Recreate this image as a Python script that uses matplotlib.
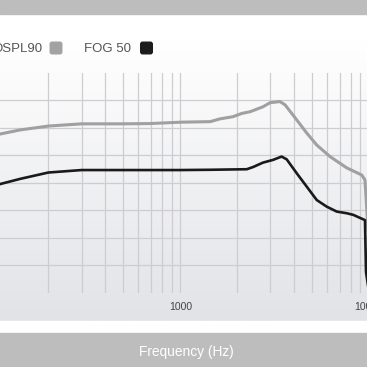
import numpy as np
import matplotlib
matplotlib.use('Agg')
import matplotlib.pyplot as plt
from matplotlib.patches import Rectangle, FancyBboxPatch

plt.rcParams['font.family'] = ['Liberation Sans', 'DejaVu Sans']

# frequency response values (Hz, dB)
ospl_freq = [100, 111, 142, 200, 300, 480, 690, 1000, 1440, 1620, 1900, 2120, 2340,
             2740, 2990, 3370, 3590, 4140, 4670, 5280, 6210, 7610, 9140, 9510, 9870]
ospl_db = [107.0, 107.7, 109.2, 110.6, 111.4, 111.4, 111.5, 112.0, 112.2, 113.2, 114.0, 115.2, 115.8,
           117.6, 119.1, 119.5, 118.3, 112.8, 108.1, 103.7, 99.5, 95.4, 92.8, 91.0, 72.8]

fog_freq = [100, 111, 142, 200, 300, 480, 1000, 1440, 2250, 2430, 2740, 3100, 3440,
            3660, 4140, 4670, 5280, 5960, 6740, 7610, 8250, 8950, 9510, 9630, 10000]
fog_db = [88.4, 89.5, 91.4, 93.7, 94.6, 94.6, 94.6, 94.7, 94.9, 95.7, 97.3, 98.3, 99.5,
          98.5, 93.4, 88.6, 83.7, 81.3, 79.5, 78.9, 78.3, 77.2, 76.4, 57.5, 50.0]

major_ticks = [100, 1000, 10000]
tick_labels = ['100', '1000', '10000']
minor_ticks = [200, 300, 400, 500, 600, 700, 800, 900,
               2000, 3000, 4000, 5000, 6000, 7000, 8000, 9000]
level_ticks = [60, 70, 80, 90, 100, 110, 120]

W = 367
fig = plt.figure(figsize=(3.67, 3.67), dpi=100)

# background: bands + gradient panel, drawn in pixel coords
bg = fig.add_axes([0, 0, 1, 1], zorder=0)
bg.set_xlim(0, W)
bg.set_ylim(W, 0)
bg.axis('off')
top = np.array([1.0, 1.0, 1.0])
bottom = np.array([0xe2, 0xe3, 0xe7]) / 255
t = np.linspace(0, 1, 200)[:, None]
grad = (top + (bottom - top) * t)[:, None, :]
bg.imshow(grad, extent=[0, W, 321, 40], aspect='auto', interpolation='bilinear')
bg.add_patch(Rectangle((0, 40), W, -26, color='white'))
bg.add_patch(Rectangle((0, 0), W, 14, color='#bdbdbd'))
bg.add_patch(Rectangle((0, 321), W, 12, color='white'))
bg.add_patch(Rectangle((0, 333), W, 34, color='#bdbdbd'))
bg.text(186, 352, 'Frequency (Hz)', color='white', fontsize=9.9, ha='center', va='center')

# legend
bg.text(42.5, 48.5, 'OSPL90', color='#555555', fontsize=9.5, ha='right', va='center')
bg.add_patch(FancyBboxPatch((51, 43), 10, 10, boxstyle='round,pad=0.8,rounding_size=2',
                            color='#a2a2a2'))
bg.text(84, 48.5, 'FOG 50', color='#555555', fontsize=9.5, ha='left', va='center')
bg.add_patch(FancyBboxPatch((141.5, 43), 10, 10, boxstyle='round,pad=0.8,rounding_size=2',
                            color='#1c1c1c'))

# main plot area (extends past the cropped figure edges)
x0, x1 = -8.5, 369.1
ytop, ybot = 72.7, 292.7
ax = fig.add_axes([x0 / W, (W - ybot) / W, (x1 - x0) / W, (ybot - ytop) / W], zorder=1)
ax.set_facecolor('none')
ax.set_xscale('log')
ax.set_xlim(100, 10000)
ax.set_ylim(50, 130)
ax.set_xticks(major_ticks)
ax.set_xticklabels(tick_labels)
ax.set_xticks(minor_ticks, minor=True)
ax.xaxis.set_minor_formatter(matplotlib.ticker.NullFormatter())
ax.set_yticks(level_ticks)
ax.set_yticklabels([])
ax.tick_params(axis='both', which='both', length=0)
ax.tick_params(axis='x', pad=7, labelsize=7.5, labelcolor='#444444')
ax.grid(True, which='both', color='#cdcdd1', linewidth=0.9)
for s in ax.spines.values():
    s.set_visible(False)

ax.plot(ospl_freq, ospl_db, color='#a0a0a0', linewidth=2.2, solid_joinstyle='round')
ax.plot(fog_freq, fog_db, color='#1a1a1a', linewidth=1.9, solid_joinstyle='round')

fig.savefig('out.png', dpi=100)
